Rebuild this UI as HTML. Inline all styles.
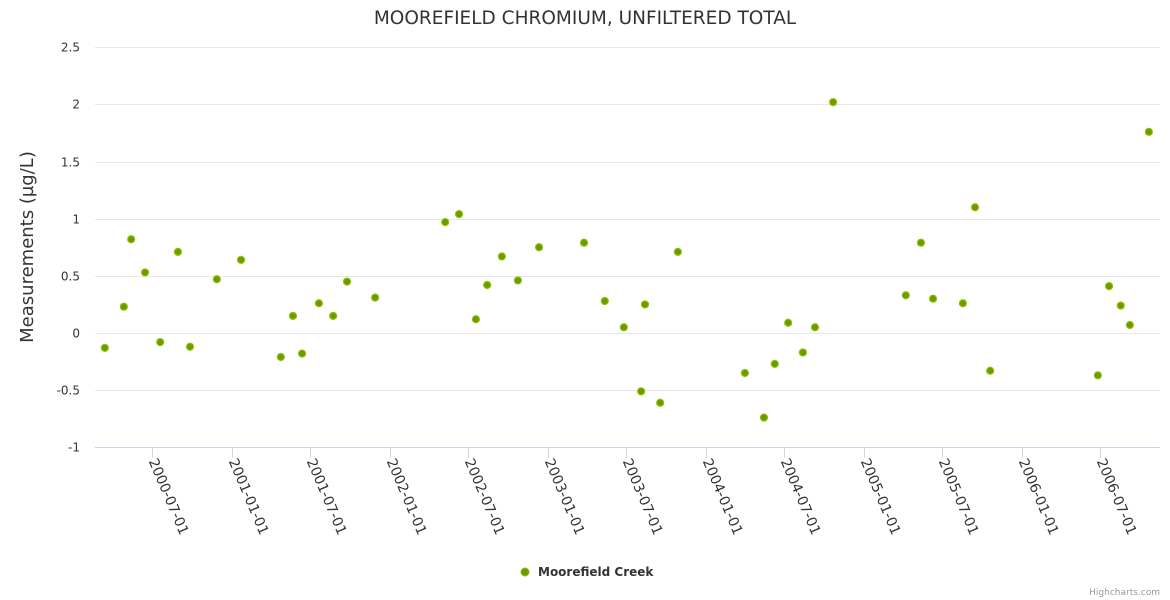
<!DOCTYPE html>
<html><head><meta charset="utf-8"><style>
body{margin:0;background:#fff;}
svg{display:block;font-family:"DejaVu Sans","Liberation Sans",sans-serif;}
</style></head><body>
<svg id="chart" width="1170" height="600">
<text x="585" y="24" text-anchor="middle" font-size="18.5" fill="#333">MOOREFIELD CHROMIUM, UNFILTERED TOTAL</text>
<text transform="translate(33,247) rotate(-90)" text-anchor="middle" font-size="18" fill="#333">Measurements (µg/L)</text>
<g id="grid"></g><g id="xaxis"></g><g id="pts"></g>
<g>
<circle cx="525" cy="572" r="4" fill="#6a9a00" stroke="#90c000" stroke-width="1"/>
<text x="538" y="576" font-size="12" font-weight="bold" fill="#333">Moorefield Creek</text>
</g>
<text x="1160" y="595" text-anchor="end" font-size="9" fill="#999">Highcharts.com</text>
</svg>
<script>
const yTicks=[-1,-0.5,0,0.5,1,1.5,2,2.5];
const xTicks=["2000-07-01","2001-01-01","2001-07-01","2002-01-01","2002-07-01","2003-01-01","2003-07-01","2004-01-01","2004-07-01","2005-01-01","2005-07-01","2006-01-01","2006-07-01"];
const dates=["2000-03-13","2000-04-26","2000-05-13","2000-06-14","2000-07-19","2000-08-29","2000-09-26","2000-11-27","2001-01-22","2001-04-24","2001-05-22","2001-06-12","2001-07-21","2001-08-23","2001-09-24","2001-11-28","2002-05-09","2002-06-10","2002-07-19","2002-08-14","2002-09-17","2002-10-24","2002-12-12","2003-03-26","2003-05-13","2003-06-26","2003-08-05","2003-08-14","2003-09-18","2003-10-29","2004-04-01","2004-05-15","2004-06-09","2004-07-10","2004-08-13","2004-09-10","2004-10-22","2005-04-08","2005-05-13","2005-06-10","2005-08-18","2005-09-15","2005-10-20","2006-06-26","2006-07-22","2006-08-18","2006-09-08","2006-10-22"];
const values=[-0.13,0.23,0.82,0.53,-0.08,0.71,-0.12,0.47,0.64,-0.21,0.15,-0.18,0.26,0.15,0.45,0.31,0.97,1.04,0.12,0.42,0.67,0.46,0.75,0.79,0.28,0.05,-0.51,0.25,-0.61,0.71,-0.35,-0.74,-0.27,0.09,-0.17,0.05,2.02,0.33,0.79,0.30,0.26,1.10,-0.33,-0.37,0.41,0.24,0.07,1.76];
const NS="http://www.w3.org/2000/svg";
const t0=Date.UTC(2000,6,1);
function xS(d){return 152.4+(Date.parse(d+"T00:00:00Z")-t0)/86400000*0.4325;}
function yS(v){return 333-v*114.3;}
function mk(tag,attrs,parent){const e=document.createElementNS(NS,tag);for(const k in attrs)e.setAttribute(k,attrs[k]);parent.appendChild(e);return e;}
const grid=document.getElementById("grid"),xa=document.getElementById("xaxis"),pts=document.getElementById("pts");
yTicks.forEach(v=>{
  const y=Math.round(yS(v))+0.5;
  const l=mk("line",{x1:95,x2:1160,y1:y,y2:y,stroke:v===-1?"#ccd6eb":"#e6e6e6","stroke-width":1},grid);
  
  
  const t=mk("text",{x:80,y:y+4,"text-anchor":"end","font-size":12,fill:"#333"},grid);
  t.textContent=String(v);
  
  
});
xTicks.forEach(d=>{
  const x=Math.round(xS(d))+0.5;
  const l=mk("line",{x1:x,x2:x,y1:448,y2:458,stroke:"#ccd6eb","stroke-width":1},xa);
  
  
  const t=mk("text",{transform:`translate(${x-4},461) rotate(67)`,"font-size":14,fill:"#333"},xa);
  t.textContent=d;
  
  
});
dates.forEach((d,i)=>{
  const c=mk("circle",{cx:xS(d),cy:yS(values[i]),r:3.5,fill:"#6a9a00",stroke:"#90c000","stroke-width":1.2},pts);
  
  
});
</script>
</body></html>
